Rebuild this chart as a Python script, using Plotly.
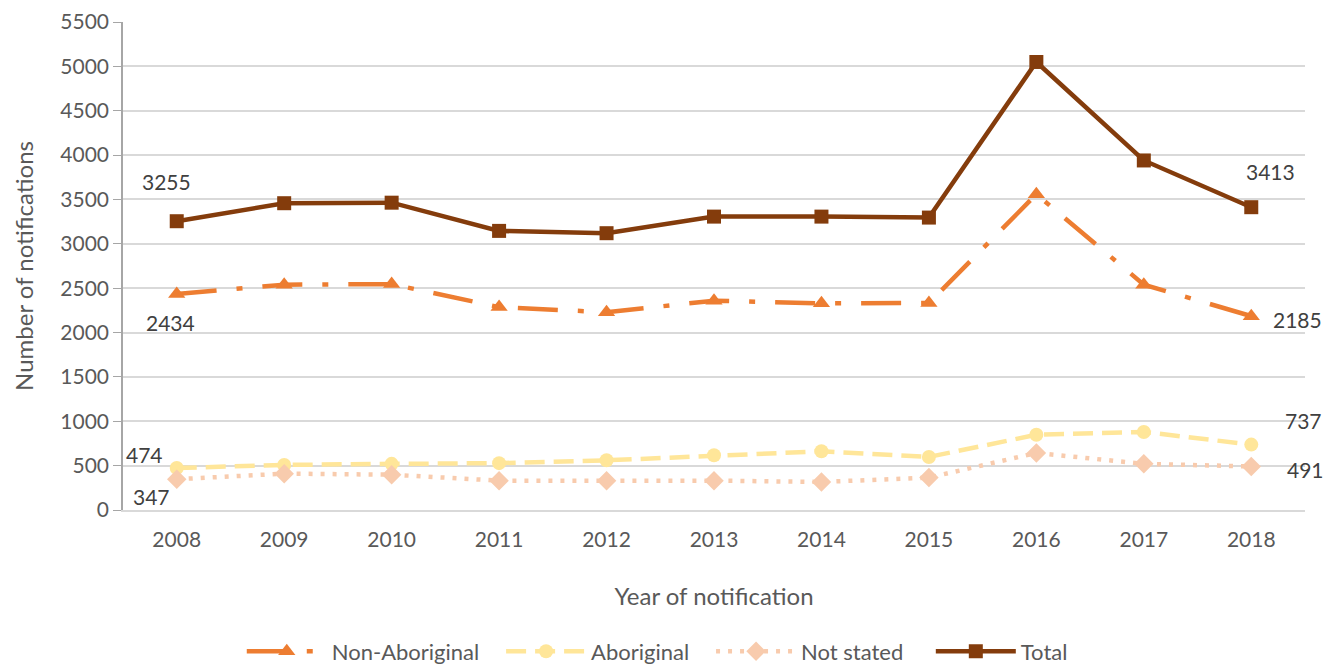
import plotly.graph_objects as go

years = [2008, 2009, 2010, 2011, 2012, 2013, 2014, 2015, 2016, 2017, 2018]
non_aboriginal = [2434, 2540, 2546, 2287, 2229, 2359, 2329, 2333, 3559, 2540, 2185]
aboriginal = [474, 508, 520, 528, 560, 617, 662, 598, 848, 880, 737]
not_stated = [347, 410, 398, 331, 331, 331, 316, 365, 643, 520, 491]
total = [3255, 3458, 3464, 3146, 3120, 3307, 3307, 3296, 5050, 3940, 3413]
y_ticks = [0, 500, 1000, 1500, 2000, 2500, 3000, 3500, 4000, 4500, 5000, 5500]

FONT = "Lato, Open Sans, sans-serif"
GRID = "#D9D9D9"
TXT = "#595959"
LBL = "#404040"
PAD = "\u00a0\u00a0\u00a0"

fig = go.Figure()
fig.add_trace(go.Scatter(
    x=years, y=non_aboriginal, name="Non-Aboriginal" + PAD, mode="lines+markers",
    line=dict(color="#ED7D31", width=4.5, dash="40px,20px,6px,20px"),
    marker=dict(symbol="triangle-up", size=15, color="#ED7D31")))
fig.add_trace(go.Scatter(
    x=years, y=aboriginal, name="Aboriginal" + PAD, mode="lines+markers",
    line=dict(color="#FFE699", width=4.5, dash="20px,9px"),
    marker=dict(symbol="circle", size=14, color="#FFE699")))
fig.add_trace(go.Scatter(
    x=years, y=not_stated, name="Not stated" + PAD + "\u00a0", mode="lines+markers",
    line=dict(color="#F8CBAD", width=4.5, dash="4px,8px"),
    marker=dict(symbol="diamond", size=15, color="#F8CBAD")))
fig.add_trace(go.Scatter(
    x=years, y=total, name="Total", mode="lines+markers",
    line=dict(color="#843C0C", width=4.5),
    marker=dict(symbol="square", size=14, color="#843C0C")))

labels = [
    (years[0], total[0], -10, 40),
    (years[0], non_aboriginal[0], -6, -28),
    (years[0], aboriginal[0], -32, 13),
    (years[0], not_stated[0], -25, -17),
    (years[-1], total[-1], 19, 36),
    (years[-1], non_aboriginal[-1], 46, -3),
    (years[-1], aboriginal[-1], 52, 24),
    (years[-1], not_stated[-1], 54, -3),
]
for x, y, dx, dy in labels:
    fig.add_annotation(x=x, y=y, xref="x", yref="y", text=str(y), showarrow=False,
                       xshift=dx, yshift=dy, xanchor="center", yanchor="middle",
                       font=dict(family=FONT, size=21, color=LBL))

fig.update_layout(
    width=1324, height=656,
    margin=dict(l=115, r=27, t=14, b=154, autoexpand=False),
    plot_bgcolor="white", paper_bgcolor="white",
    font=dict(family=FONT, size=21, color=TXT),
    showlegend=True,
    legend=dict(orientation="h", x=0.452, xanchor="center", y=-0.29, yanchor="middle",
                font=dict(family=FONT, size=22, color=TXT), itemwidth=80,
                traceorder="normal"),
)
fig.update_xaxes(
    range=[2007.5, 2018.5], tickmode="array", tickvals=years,
    ticktext=[str(y) for y in years], showgrid=False, zeroline=False,
    showline=True, linecolor=GRID, linewidth=1.5, ticks="",
    ticklabelstandoff=10,
    tickfont=dict(family=FONT, size=21, color=TXT),
    title=dict(text="Year of notification", standoff=38,
               font=dict(family=FONT, size=24, color=TXT)),
)
fig.update_yaxes(
    range=[0, 5500.5], tickmode="array", tickvals=y_ticks,
    ticktext=[str(v) for v in y_ticks], ticklabeloverflow="allow",
    showgrid=True, gridcolor=GRID, gridwidth=1.5,
    zeroline=False, showline=True, linecolor="#A6A6A6", linewidth=1.5,
    ticks="outside", ticklen=8, tickcolor="#A6A6A6",
    tickfont=dict(family=FONT, size=21, color=TXT),
    title=dict(text="Number of notifications", standoff=20,
               font=dict(family=FONT, size=24, color=TXT)),
)

fig.write_html("out.html")
